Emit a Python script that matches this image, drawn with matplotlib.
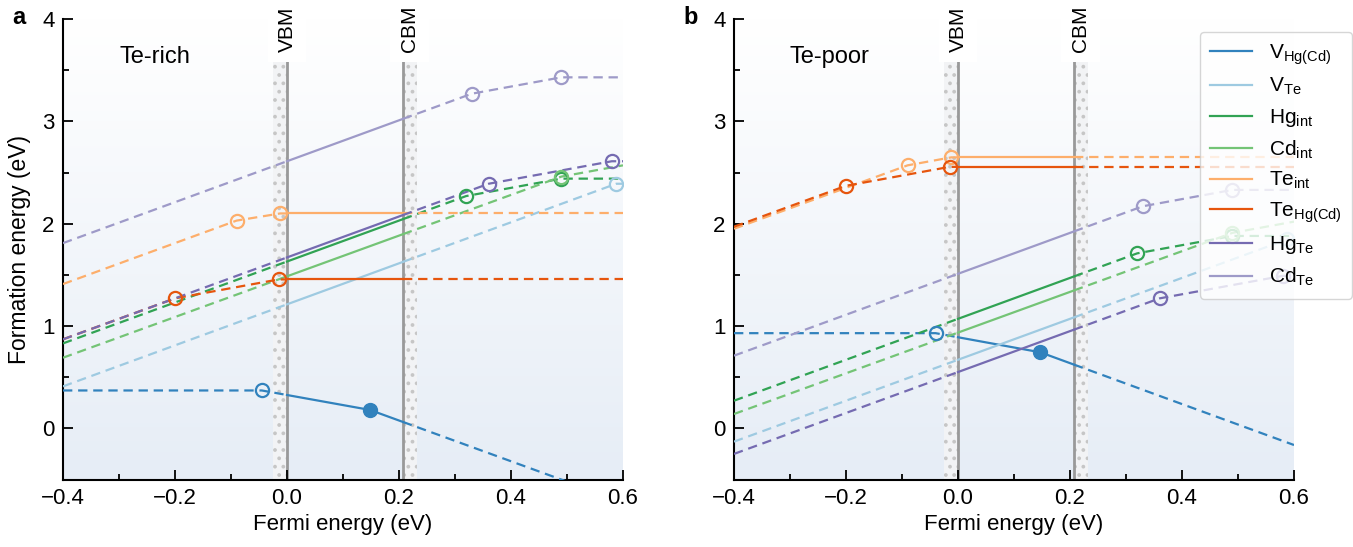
import numpy as np
import matplotlib
matplotlib.use("Agg")
import matplotlib.pyplot as plt
from matplotlib.ticker import MultipleLocator
from matplotlib.colors import LinearSegmentedColormap
from matplotlib.transforms import blended_transform_factory

plt.rcParams["font.family"] = ["Liberation Sans", "DejaVu Sans"]
plt.rcParams["mathtext.fontset"] = "custom"
plt.rcParams["mathtext.rm"] = "Liberation Sans"
plt.rcParams["mathtext.it"] = "Liberation Sans:italic"
plt.rcParams["hatch.color"] = "#c6c6c6"
plt.rcParams["hatch.linewidth"] = 1.5

# -----------------------------
# Band edges (eV)
# -----------------------------
vbm = 0.0
cbm = 0.207
band_w = 0.025
xlim = (-0.4, 0.6)
ylim = (-0.5, 4.0)

labels = [r"V$_{\rm Hg(Cd)}$", r"V$_{\rm Te}$", r"Hg$_{\rm int}$", r"Cd$_{\rm int}$",
          r"Te$_{\rm int}$", r"Te$_{\rm Hg(Cd)}$", r"Hg$_{\rm Te}$", r"Cd$_{\rm Te}$"]
colors = ["#3182bd", "#9ecae1", "#31a354", "#74c476",
          "#fdae6b", "#e6550d", "#756bb1", "#9e9ac8"]

# -----------------------------
# Te-rich: kink points (Fermi energy, formation energy)
# -----------------------------
rich_x = [
    [-0.4, -0.045, 0.148, 0.6],   # V_Hg(Cd)
    [-0.4, 0.588, 0.6],           # V_Te
    [-0.4, 0.32, 0.49, 0.6],      # Hg_int
    [-0.4, 0.49, 0.6],            # Cd_int
    [-0.4, -0.09, -0.012, 0.6],   # Te_int
    [-0.4, -0.2, -0.015, 0.6],    # Te_Hg(Cd)
    [-0.4, 0.36, 0.58, 0.6],      # Hg_Te
    [-0.4, 0.33, 0.49, 0.6],      # Cd_Te
]
rich_y = [
    [0.37, 0.37, 0.18, -0.72],
    [0.41, 2.39, 2.39],
    [0.83, 2.27, 2.44, 2.44],
    [0.69, 2.46, 2.57],
    [1.41, 2.03, 2.10, 2.10],
    [0.87, 1.27, 1.455, 1.455],
    [0.87, 2.39, 2.61, 2.61],
    [1.81, 3.27, 3.43, 3.43],
]

# -----------------------------
# Te-poor
# -----------------------------
poor_x = [
    [-0.4, -0.04, 0.147, 0.6],
    [-0.4, 0.588, 0.6],
    [-0.4, 0.32, 0.49, 0.6],
    [-0.4, 0.49, 0.6],
    [-0.4, -0.09, -0.012, 0.6],
    [-0.4, -0.2, -0.015, 0.6],
    [-0.4, 0.36, 0.58, 0.6],
    [-0.4, 0.33, 0.49, 0.6],
]
poor_y = [
    [0.93, 0.93, 0.743, -0.163],
    [-0.13, 1.846, 1.846],
    [0.27, 1.71, 1.88, 1.88],
    [0.14, 1.91, 2.02],
    [1.95, 2.57, 2.648, 2.648],
    [1.97, 2.37, 2.555, 2.555],
    [-0.25, 1.27, 1.49, 1.49],
    [0.71, 2.17, 2.33, 2.33],
]

W, H = 1353, 547
fig = plt.figure(figsize=(W / 100, H / 100), dpi=100)

grad = LinearSegmentedColormap.from_list("bg", ["#e6edf6", "#ffffff"])
dash = (0, (4.2, 2.6))


def draw_panel(ax, xs_all, ys_all, title):
    ax.imshow(np.linspace(0, 1, 256).reshape(-1, 1), cmap=grad, origin="lower",
              extent=[xlim[0], xlim[1], ylim[0], ylim[1]], aspect="auto", zorder=0)

    # band edges with dotted bands
    ax.axvspan(vbm - band_w, vbm, facecolor="#f2f3f5", edgecolor="#c6c6c6",
               hatch="..", lw=0, zorder=1)
    ax.axvspan(cbm, cbm + band_w, facecolor="#f2f3f5", edgecolor="#c6c6c6",
               hatch="..", lw=0, zorder=1)
    ax.axvline(vbm, color="#999999", lw=2.0, zorder=1.5)
    ax.axvline(cbm, color="#999999", lw=2.0, zorder=1.5)

    trans = blended_transform_factory(ax.transData, ax.transAxes)
    for xpos, txt in [(vbm, "VBM"), (cbm + 0.012, "CBM")]:
        ax.text(xpos, 0.978, txt, transform=trans, rotation=90, ha="center",
                va="center", fontsize=15, clip_on=False, zorder=5,
                bbox=dict(fc="white", ec="none", pad=7))

    for xs, ys, c, lab in zip(xs_all, ys_all, colors, labels):
        xs = np.array(xs)
        ys = np.array(ys)
        # solid inside the gap, dashed outside
        y_v = np.interp(vbm, xs, ys)
        y_c = np.interp(cbm, xs, ys)
        m_in = (xs > vbm) & (xs < cbm)
        ax.plot(np.r_[vbm, xs[m_in], cbm], np.r_[y_v, ys[m_in], y_c],
                color=c, lw=1.6, zorder=3, label=lab)
        m_lo = xs < vbm
        ax.plot(np.r_[xs[m_lo], vbm], np.r_[ys[m_lo], y_v],
                color=c, lw=1.6, ls=dash, zorder=3)
        m_hi = xs > cbm
        ax.plot(np.r_[cbm, xs[m_hi]], np.r_[y_c, ys[m_hi]],
                color=c, lw=1.6, ls=dash, zorder=3)
        # transition levels: open outside the gap, filled inside
        kx, ky = xs[1:-1], ys[1:-1]
        inside = (kx > vbm) & (kx < cbm)
        ax.plot(kx[~inside], ky[~inside], "o", ms=9.5, mfc="none", mec=c,
                mew=1.6, zorder=4)
        ax.plot(kx[inside], ky[inside], "o", ms=10, color=c, zorder=4)

    ax.set_xlim(*xlim)
    ax.set_ylim(*ylim)
    ax.spines["top"].set_visible(False)
    ax.spines["right"].set_visible(False)
    for s in ["left", "bottom"]:
        ax.spines[s].set_linewidth(1.5)
    ax.xaxis.set_major_locator(MultipleLocator(0.2))
    ax.xaxis.set_minor_locator(MultipleLocator(0.1))
    ax.yaxis.set_major_locator(MultipleLocator(1))
    ax.yaxis.set_minor_locator(MultipleLocator(0.5))
    ax.tick_params(which="both", direction="in", width=1.3, labelsize=16)
    ax.tick_params(which="major", length=7, pad=6)
    ax.tick_params(which="minor", length=4.5)
    ax.set_xticklabels([f"{v:.1f}".replace("-", "\u2212") for v in ax.get_xticks()])
    ax.set_xlabel("Fermi energy (eV)", fontsize=16, labelpad=4)
    ax.text(0.1, 0.917, title, transform=ax.transAxes, fontsize=17,
            ha="left", va="center", zorder=5)


ax_a = fig.add_axes([63 / W, 1 - 479.5 / H, 560 / W, 460.5 / H])
ax_b = fig.add_axes([734 / W, 1 - 479.5 / H, 560 / W, 460.5 / H])

draw_panel(ax_a, rich_x, rich_y, "Te-rich")
draw_panel(ax_b, poor_x, poor_y, "Te-poor")

ax_a.set_ylabel("Formation energy (eV)", fontsize=16.5, labelpad=8)

leg = ax_b.legend(loc="upper right", bbox_to_anchor=(1.103, 0.972), fontsize=15,
                  frameon=True, framealpha=0.8, edgecolor="#cccccc",
                  handlelength=2.0, labelspacing=0.45, borderaxespad=0,
                  borderpad=0.5, handletextpad=0.8)
leg.set_zorder(10)

fig.text(12 / W, 1 - 18 / H, "a", fontsize=17, weight="bold", va="center")
fig.text(683 / W, 1 - 18 / H, "b", fontsize=17, weight="bold", va="center")

fig.savefig("out.png", dpi=100)
